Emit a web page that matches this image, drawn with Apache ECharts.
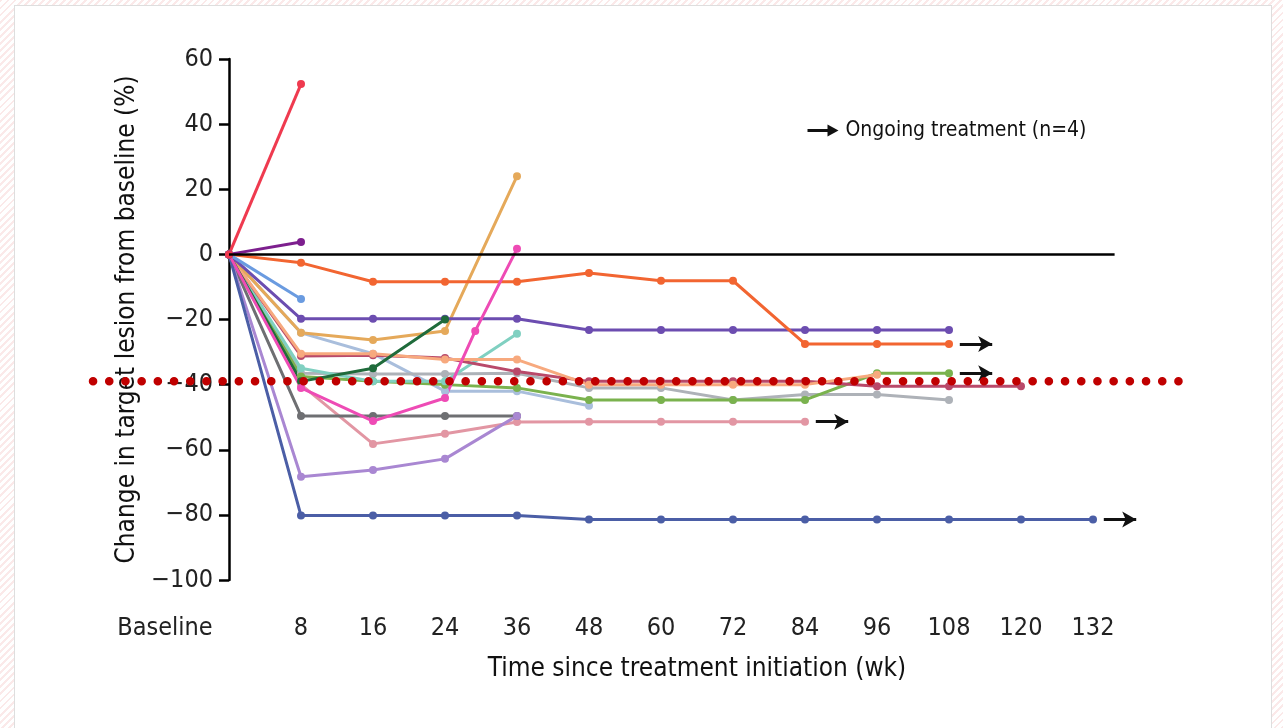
<!DOCTYPE html>
<html>
<head>
<meta charset="utf-8">
<script src="https://cdn.jsdelivr.net/npm/echarts@6/dist/echarts.min.js"></script>
<style>
  html, body { margin: 0; padding: 0; width: 1283px; height: 728px; overflow: hidden; }
  body { background: repeating-linear-gradient(135deg, #fbe9e9 0px, #fbe9e9 2px, #ffffff 2px, #ffffff 5px); }
  #panel { position: absolute; left: 14px; top: 5px; width: 1256px; height: 740px; background: #fff; border: 1px solid #dedede; }
  #chart { position: absolute; left: 0; top: 0; width: 1283px; height: 728px; }
</style>
</head>
<body>
<div id="panel"></div>
<div id="chart"></div>
<script>
var FONT = "'Liberation Sans Narrow', 'DejaVu Sans Condensed', 'Arial Narrow', sans-serif";

// x positions: index of the visit (Baseline = 0)
var weekLabels = ['Baseline', '8', '16', '24', '36', '48', '60', '72', '84', '96', '108', '120', '132'];
var yTicks = [-100, -80, -60, -40, -20, 0, 20, 40, 60];

// % change per patient, one value per visit
var ptRose     = [0, -40, -58.2, -55.1, -51.5, -51.4, -51.4, -51.4, -51.4];
var ptSteel    = [0, -24.1, -30.5, -42, -42, -46.5];
var ptGrey     = [0, -36.5, -36.7, -36.7, -36.5, -41, -41, -44.7, -43, -43, -44.7];
var ptGreen    = [0, -37.5, -39, -40, -41, -44.7, -44.7, -44.7, -44.7, -36.5, -36.5];
var ptTeal     = [0, -35, -39, -39, -24.4];
var ptMaroon   = [0, -31.2, -31, -31.8, -36, -39, -39, -39, -39, -40.5, -40.5, -40.5];
var ptPeach    = [0, -30.5, -30.5, -32.3, -32.3, -40, -40, -40, -40, -37];
var ptTan      = [0, -24.1, -26.3, -23.5, 24.0];
var ptSlate    = [0, -49.6, -49.6, -49.6, -49.6];
var ptLavender = [0, -68.3, -66.2, -62.8, -49.6];
var ptNavy     = [0, -80.2, -80.2, -80.2, -80.2, -81.4, -81.4, -81.4, -81.4, -81.4, -81.4, -81.4, -81.4];
var ptViolet   = [0, -19.8, -19.8, -19.8, -19.8, -23.2, -23.2, -23.2, -23.2, -23.2, -23.2];
var ptOrange   = [0, -2.6, -8.4, -8.4, -8.4, -5.7, -8.1, -8.1, -27.5, -27.5, -27.5];
var ptForest   = [0, -39, -35, -20];
var ptMagentaX = [0, 1, 2, 3, 3.42, 4];
var ptMagenta  = [0, -41, -51.2, -44.1, -23.5, 1.7];
var ptSky      = [0, -13.7];
var ptPlum     = [0, 3.8];
var ptRed      = [0, 52.3];

var threshold = -39;     // dotted reference line
var zeroLineEnd = 12.3;  // zero line length in visit units

function pairs(vals, xs) {
    return vals.map(function (v, i) { return [xs ? xs[i] : i, v]; });
}

function line(name, color, vals, xs, ongoing) {
    var s = {
        name: name,
        type: 'line',
        data: pairs(vals, xs),
        symbol: 'circle',
        symbolSize: 8,
        lineStyle: { color: color, width: 3 },
        itemStyle: { color: color },
        silent: true
    };
    if (ongoing) {
        var last = vals.length - 1, v = vals[last];
        s.markLine = {
            silent: true,
            symbol: ['none', 'arrow'],
            symbolSize: [12, 14],
            label: { show: false },
            lineStyle: { color: '#111', width: 3, type: 'solid' },
            data: [[{ coord: [last + 0.15, v] }, { coord: [last + 0.6, v] }]]
        };
    }
    return s;
}

var series = [
    line('rose', '#e296a3', ptRose, null, true),
    line('steel', '#a9bedc', ptSteel),
    line('grey', '#aeb2b8', ptGrey),
    line('green', '#7ab24e', ptGreen, null, true),
    line('teal', '#80d0c1', ptTeal),
    line('maroon', '#b9496a', ptMaroon),
    line('peach', '#f7a97e', ptPeach),
    line('tan', '#e5a95a', ptTan),
    line('slate', '#6e6f72', ptSlate),
    line('lavender', '#a987d2', ptLavender),
    line('navy', '#4b5ea6', ptNavy, null, true),
    line('violet', '#6c4db0', ptViolet),
    line('orange', '#f26531', ptOrange, null, true),
    line('forest', '#1f6b3b', ptForest),
    line('magenta', '#ee4bb5', ptMagenta, ptMagentaX),
    line('sky', '#6a9be0', ptSky),
    line('plum', '#7d1f8e', ptPlum),
    line('red', '#ef3a4f', ptRed)
];

// zero line
series.push({
    type: 'line',
    data: [],
    silent: true,
    markLine: {
        silent: true,
        symbol: ['none', 'none'],
        label: { show: false },
        lineStyle: { color: '#000', width: 2.5, type: 'solid' },
        data: [[{ coord: [0, 0] }, { coord: [zeroLineEnd, 0] }]]
    },
    z: 1
});

var myChart = echarts.init(document.getElementById('chart'));
var option = {
    animation: false,
    backgroundColor: 'transparent',
    textStyle: { fontFamily: FONT },
    grid: { left: 229, right: 118, top: 59, bottom: 148 },
    xAxis: {
        type: 'value',
        min: 0,
        max: 13,
        interval: 1,
        splitLine: { show: false },
        axisLine: { show: false },
        axisTick: { show: false },
        axisLabel: {
            margin: 36,
            fontSize: 25,
            color: '#222',
            fontFamily: FONT,
            formatter: function (v) {
                var lab = weekLabels[v];
                if (lab === undefined || v !== Math.round(v)) return '';
                return v === 0 ? '{b|' + lab + '}' : lab;
            },
            rich: { b: { fontSize: 25, fontFamily: FONT, color: '#222', padding: [0, 128, 0, 0] } }
        },
        name: 'Time since treatment initiation (wk)',
        nameLocation: 'middle',
        nameGap: 76,
        nameTextStyle: { fontSize: 26, color: '#111', fontFamily: FONT }
    },
    yAxis: {
        type: 'value',
        min: yTicks[0],
        max: yTicks[yTicks.length - 1],
        interval: 20,
        splitLine: { show: false },
        axisLine: { show: true, onZero: false, lineStyle: { color: '#000', width: 2.5 } },
        axisTick: { show: true, length: 10, lineStyle: { color: '#000', width: 2.5 } },
        axisLabel: {
            margin: 16,
            fontSize: 25,
            color: '#222',
            fontFamily: FONT,
            formatter: function (v) { return v < 0 ? '\u2212' + Math.abs(v) : String(v); }
        },
        name: 'Change in target lesion from baseline (%)',
        nameLocation: 'middle',
        nameGap: 77,
        nameTextStyle: { fontSize: 26, color: '#111', fontFamily: FONT }
    },
    series: series
};
myChart.setOption(option);

// dotted threshold line (annotation, runs past the plot area) and the legend note
var yT = myChart.convertToPixel({ yAxisIndex: 0 }, threshold);
myChart.setOption({
    graphic: [
        {
            type: 'line',
            z: 100,
            silent: true,
            shape: { x1: 93, y1: yT, x2: 1192, y2: yT },
            style: { stroke: '#c00000', lineWidth: 8.5, lineCap: 'round', lineDash: [0.1, 16.1] }
        },
        {
            type: 'group',
            left: 805,
            top: 120,
            silent: true,
            children: [
                { type: 'line', shape: { x1: 0, y1: 14, x2: 24, y2: 14 }, style: { stroke: '#111', lineWidth: 3 } },
                { type: 'polygon', shape: { points: [[20, 8], [31, 14], [20, 20]] }, style: { fill: '#111' } },
                { type: 'text', x: 38, y: 14, style: { text: 'Ongoing treatment (n=4)', fontSize: 21, fontFamily: FONT, fill: '#111', verticalAlign: 'middle' } }
            ]
        }
    ]
});
</script>
</body>
</html>
